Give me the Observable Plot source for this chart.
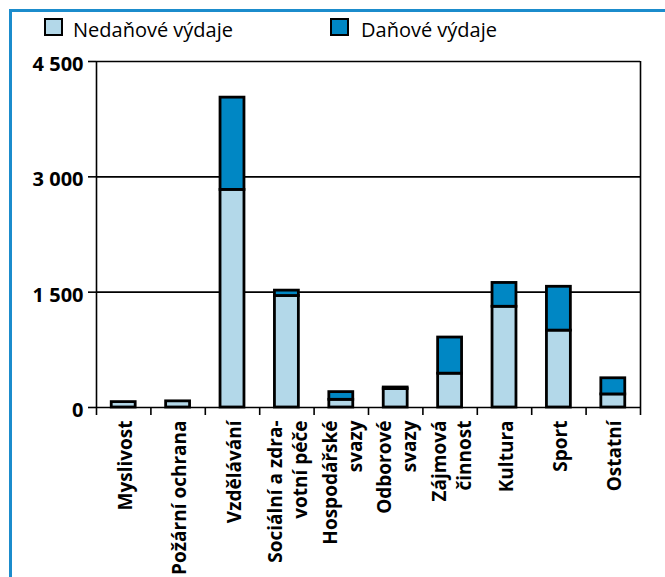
<!DOCTYPE html>
<html><head><meta charset="utf-8">
<script src="https://cdn.jsdelivr.net/npm/d3@7"></script>
<script src="https://cdn.jsdelivr.net/npm/@observablehq/plot@0.6"></script>
<style>
body{margin:0;background:#fff;font-family:"Open Sans",sans-serif;}
#wrap{position:relative;width:665px;height:577px;overflow:hidden;}
#frame{position:absolute;left:9px;top:9px;width:700px;height:640px;border:3px solid #1b8ccc;box-sizing:border-box;}
.sw{position:absolute;width:19px;height:18px;border:2px solid #000;box-sizing:border-box;}
.lt{position:absolute;font-size:20px;line-height:1;color:#000;white-space:nowrap;}
#chart svg{position:absolute;left:0;top:0;}
</style>
</head><body>
<div id="wrap">
  <div id="frame"></div>
  <div id="chart"></div>
  <div id="legend"></div>
</div>
<script>
const categories = ["Myslivost", "Požární ochrana", "Vzdělávání", "Sociální a zdra-\nvotní péče", "Hospodářské\nsvazy", "Odborové\nsvazy", "Zájmová\nčinnost", "Kultura", "Sport", "Ostatní"];
const nedanove = [70, 80, 2830, 1450, 100, 240, 440, 1310, 1000, 170];
const danove = [0, 0, 1200, 70, 100, 20, 470, 310, 570, 210];
const series = ["Nedaňové výdaje", "Daňové výdaje"];
const colors = ["#b3d8e9", "#0087c4"];
const yTicks = [0, 1500, 3000, 4500];

const rows = [];
categories.forEach((c, i) => {
  rows.push({i, c, typ: series[0], y1: 0, y2: nedanove[i]});
  if (danove[i] > 0) rows.push({i, c, typ: series[1], y1: nedanove[i], y2: nedanove[i] + danove[i]});
});
const fmt = d => d3.format(",")(d).replace(/,/g, "\u00a0");
const n = categories.length;

const chart = Plot.plot({
  width: 665, height: 577,
  marginLeft: 96, marginRight: 25, marginTop: 61, marginBottom: 170,
  style: {fontFamily: "'Open Sans', sans-serif", background: "transparent", color: "#000", overflow: "visible"},
  x: {domain: [0, n], axis: null},
  y: {domain: [0, 4500], axis: null},
  color: {domain: series, range: colors},
  marks: [
    Plot.ruleY(yTicks, {stroke: "#000", strokeWidth: 1.6}),
    Plot.ruleX([0, n], {stroke: "#000", strokeWidth: 1.6}),
    Plot.axisY({ticks: yTicks, tickSize: 8, tickFormat: () => "", label: null, strokeWidth: 1.6}),
    Plot.axisY({ticks: yTicks, tickSize: 0, tickPadding: 13, tickFormat: fmt, label: null, fontSize: 20, fontWeight: 700, dy: 3}),
    Plot.axisX({ticks: d3.range(0, n + 1), tickSize: 8, tickFormat: () => "", label: null, strokeWidth: 1.6}),
    Plot.rectY(rows, {x1: d => d.i + 0.28, x2: d => d.i + 0.72, y1: "y1", y2: "y2", fill: "typ", stroke: "#000", strokeWidth: 2.8}),
    Plot.text(categories, {x: (d, i) => i + 0.5, y: 0, text: d => d, rotate: -90, textAnchor: "end", lineAnchor: "middle", lineHeight: 1.32, dy: 13, fontSize: 19, fontWeight: 700, fill: "#000"})
  ]
});
document.getElementById("chart").appendChild(chart);

const legend = document.getElementById("legend");
const legendPos = [{sx: 44, tx: 73}, {sx: 330, tx: 361}];
series.forEach((s, k) => {
  const sw = document.createElement("div");
  sw.className = "sw";
  sw.style.left = legendPos[k].sx + "px";
  sw.style.top = "18px";
  sw.style.background = colors[k];
  legend.appendChild(sw);
  const t = document.createElement("div");
  t.className = "lt";
  t.style.left = legendPos[k].tx + "px";
  t.style.top = "20px";
  t.textContent = s;
  legend.appendChild(t);
});
</script>
</body></html>
